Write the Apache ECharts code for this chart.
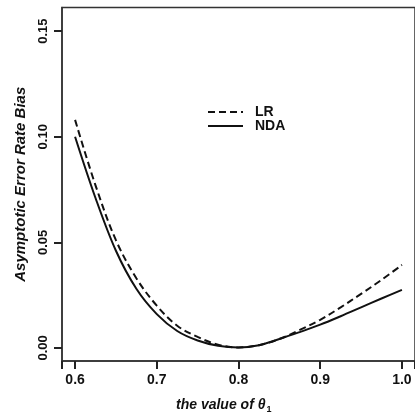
<!DOCTYPE html>
<html>
<head>
<meta charset="utf-8">
<script src="https://cdn.jsdelivr.net/npm/echarts@6/dist/echarts.min.js"></script>
<style>
  html, body { margin: 0; padding: 0; background: #fff; }
  #container { width: 415px; height: 417px; }
</style>
</head>
<body>
<div id="container"></div>
<script>
// theta_1 values and the two bias curves
var thetaValues = [0.6, 0.625, 0.65, 0.675, 0.7, 0.725, 0.75, 0.775, 0.8, 0.825, 0.85, 0.875, 0.9, 0.925, 0.95, 0.975, 1.0];
var lrBias  = [0.108, 0.077, 0.051, 0.033, 0.020, 0.0105, 0.0052, 0.0015, 0.0002, 0.0013, 0.0042, 0.0085, 0.0133, 0.0192, 0.0256, 0.0322, 0.0393];
var ndaBias = [0.100, 0.071, 0.046, 0.028, 0.016, 0.0080, 0.0035, 0.0010, 0.0002, 0.0013, 0.0042, 0.0075, 0.0110, 0.0150, 0.0192, 0.0234, 0.0275];
var xTicks = [0.6, 0.7, 0.8, 0.9, 1.0];
var yTicks = [0, 0.05, 0.10, 0.15];

function pairs(ys) {
	var out = [];
	for (var i = 0; i < thetaValues.length; i++) out.push([thetaValues[i], ys[i]]);
	return out;
}

var font = '"Liberation Sans", Arial, sans-serif';
var ink = '#111';
var frame = { color: '#333', width: 1.5 };
var tickStyle = { color: '#222', width: 2 };
var myChart = echarts.init(document.getElementById('container'));
myChart.setOption({
	animation: false,
	textStyle: { fontFamily: font },
	title: {
		text: '{i|the value of θ}{s|1}',
		left: 171,
		top: 392,
		textStyle: {
			rich: {
				i: { fontFamily: font, fontSize: 14, fontStyle: 'italic', fontWeight: 'bold', color: ink },
				s: { fontFamily: font, fontSize: 9, fontWeight: 'bold', color: ink, padding: [8, 0, 0, 1] }
			}
		}
	},
	legend: {
		data: ['LR', 'NDA'],
		orient: 'vertical',
		left: 202,
		top: 100,
		itemWidth: 35,
		itemHeight: 14,
		itemGap: 0,
		itemStyle: { opacity: 0 },
		textStyle: { fontFamily: font, fontSize: 14, fontWeight: 'bold', color: ink, padding: [0, 0, 0, 7] }
	},
	grid: {
		left: 62,
		right: -4,
		top: 7.5,
		bottom: 56,
		show: true,
		borderColor: '#333',
		borderWidth: 1.5
	},
	xAxis: {
		type: 'value',
		min: 0.584,
		max: 1.016,
		splitLine: { show: false },
		axisLine: { show: true, onZero: false, lineStyle: frame },
		axisTick: { show: true, length: 8, lineStyle: tickStyle },
		axisLabel: {
			customValues: xTicks,
			margin: 12,
			fontSize: 14,
			fontWeight: 'bold',
			color: ink,
			formatter: function (v) { return v.toFixed(1); }
		}
	},
	yAxis: {
		type: 'value',
		min: -0.0062,
		max: 0.1612,
		name: 'Asymptotic Error Rate Bias',
		nameLocation: 'middle',
		nameGap: 34,
		nameRotate: 90,
		nameTextStyle: { fontFamily: font, fontSize: 15, fontStyle: 'italic', fontWeight: 'bold', color: ink },
		splitLine: { show: false },
		axisLine: { show: true, onZero: false, lineStyle: frame },
		axisTick: { show: true, length: 8, customValues: yTicks, lineStyle: tickStyle },
		axisLabel: {
			customValues: yTicks,
			rotate: 90,
			margin: 12,
			fontSize: 13,
			fontWeight: 'bold',
			color: ink,
			formatter: function (v) { return v.toFixed(2); }
		}
	},
	series: [
		{
			name: 'LR',
			type: 'line',
			data: pairs(lrBias),
			smooth: 0.35,
			symbol: 'none',
			lineStyle: { color: ink, width: 2, type: [7, 4] },
			itemStyle: { color: ink }
		},
		{
			name: 'NDA',
			type: 'line',
			data: pairs(ndaBias),
			smooth: 0.35,
			symbol: 'none',
			lineStyle: { color: ink, width: 2, type: 'solid' },
			itemStyle: { color: ink }
		}
	]
});
</script>
</body>
</html>
